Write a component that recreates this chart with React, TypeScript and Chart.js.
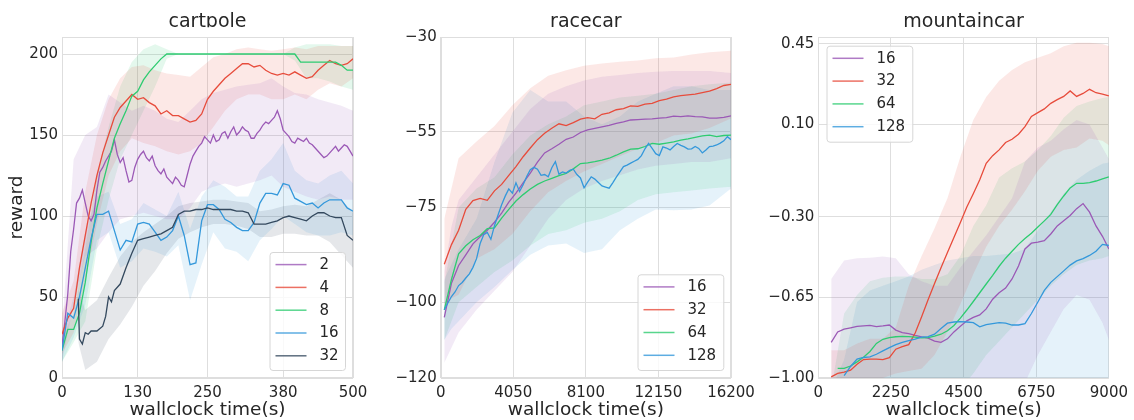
import React, { useEffect, useRef } from 'react';
import { Chart, registerables } from 'chart.js';

Chart.register(...registerables);

const FONT = '"DejaVu Sans", "Liberation Sans", sans-serif';
const INK = '#262626';
const RULE = '#dedede';

const PURPLE = '#9b59b6';
const RED = '#e74c3c';
const GREEN = '#2ecc71';
const BLUE = '#3498db';
const SLATE = '#34495e';

// evenly spaced sample positions along the time axis
const seq = (start: number, step: number, count: number) =>
  Array.from({ length: count }, (_, i) => start + step * i);

// ---------------- cartpole ----------------
const cpX = seq(0, 10, 51);
const cpX5 = seq(0, 5, 101);
const cp2 = [
  20, 35, 52, 78, 92, 108, 111, 116, 108, 100,
  97, 101, 116, 127, 130, 134, 137, 140, 147, 138,
  133, 136, 128, 121, 122, 130, 135, 138, 140, 136,
  134, 137, 131, 128, 126, 129, 124, 122, 120, 124,
  122, 119, 118, 125, 132, 137, 140, 143, 145, 149,
  147, 145, 150, 146, 147, 151, 152, 148, 152, 155,
  150, 152, 155, 153, 152, 148, 148, 151, 153, 156,
  158, 157, 159, 161, 165, 160, 153, 151, 149, 146,
  145, 148, 147, 146, 148, 145, 144, 142, 140, 138,
  136, 137, 139, 141, 143, 140, 142, 144, 143, 140,
  137,
];
const cp4 = [
  27, 37, 43, 68, 88, 108, 125, 139, 150, 161,
  167, 171, 175, 172, 173, 170, 168, 163, 165, 162,
  162, 160, 158, 159, 163, 172, 177, 181, 185, 188,
  191, 194, 194, 192, 193, 190, 188, 187, 188, 187,
  189, 187, 185, 186, 190, 193, 196, 194, 193, 194,
  197,
];
const cp8 = [
  17, 30, 30, 40, 59, 84, 105, 120, 134, 148,
  157, 165, 174, 177, 184, 189, 193, 197, 200, 200,
  200, 200, 200, 200, 200, 200, 200, 200, 200, 200,
  200, 200, 200, 200, 200, 200, 200, 200, 200, 200,
  200, 195, 195, 195, 195, 195, 195, 195, 193, 190,
  190,
];
const cp16 = [
  17, 40, 37, 50, 68, 86, 101, 101, 103, 91,
  79, 85, 84, 95, 96, 95, 90, 85, 87, 91,
  100, 88, 70, 71, 97, 107, 107, 104, 98, 96,
  93, 91, 91, 96, 108, 114, 114, 113, 120, 119,
  111, 109, 107, 108, 105, 108, 110, 110, 110, 105,
  103,
];
const cp32X = [
  28, 30, 35, 40, 45, 50, 60, 70, 75, 80, 85, 90,
  100, 110, 120, 130, 140, 150, 160, 170, 180, 190,
  200, 210, 220, 230, 240, 250, 260, 270, 280, 290,
  300, 310, 320, 330, 340, 350, 360, 370, 380, 390,
  400, 410, 420, 430, 440, 450, 460, 470, 480, 490, 500,
];
const cp32 = [
  49, 24, 21, 28, 27, 29, 29, 32, 38, 50, 47, 54,
  58, 68, 77, 85, 86, 87, 88, 89, 91, 93,
  101, 103, 103, 104, 104, 105, 104, 104, 104, 104,
  103, 103, 102, 95, 95, 95, 96, 97, 99, 100,
  99, 98, 97, 100, 102, 102, 100, 99, 99, 88, 85,
];
const cpBandX = seq(0, 20, 26);
const cp2Lo = [10, 45, 75, 80, 90, 98, 100, 102, 100, 98, 98, 105, 115, 118, 120, 118, 120, 122, 125, 118, 115, 112, 110, 112, 110, 110];
const cp2Hi = [30, 135, 150, 155, 175, 170, 165, 168, 165, 160, 158, 165, 172, 176, 178, 180, 181, 182, 185, 180, 176, 175, 172, 170, 168, 165];
const cp4Lo = [15, 28, 60, 95, 125, 140, 148, 145, 143, 140, 138, 140, 145, 155, 165, 172, 175, 175, 172, 172, 175, 172, 178, 182, 180, 185];
const cp4Hi = [40, 60, 115, 150, 172, 185, 192, 193, 190, 188, 187, 186, 192, 198, 200, 203, 204, 203, 202, 203, 204, 203, 205, 205, 205, 205];
const cp8Lo = [10, 22, 35, 80, 110, 135, 150, 165, 180, 197, 200, 200, 200, 200, 200, 200, 200, 200, 200, 200, 196, 185, 185, 183, 180, 178];
const cp8Hi = [25, 40, 80, 125, 155, 180, 195, 203, 206, 203, 200, 200, 200, 200, 200, 200, 200, 200, 200, 200, 204, 206, 206, 206, 205, 205];
const cp16Lo = [10, 25, 45, 85, 90, 68, 72, 80, 78, 75, 82, 48, 70, 90, 80, 78, 72, 85, 92, 100, 95, 90, 88, 88, 90, 88];
const cp16Hi = [25, 50, 90, 112, 115, 95, 98, 108, 104, 100, 115, 92, 112, 122, 118, 112, 112, 128, 135, 145, 128, 122, 120, 125, 128, 120];
const cp32BandX = [28, 40, 60, 80, 100, 120, 140, 160, 180, 200, 220, 240, 260, 280, 300, 320, 340, 360, 380, 400, 420, 440, 460, 480, 500];
const cp32Lo = [22, 5, 10, 24, 33, 44, 57, 66, 77, 86, 90, 93, 95, 95, 94, 92, 87, 87, 89, 89, 88, 88, 84, 76, 68];
const cp32Hi = [55, 42, 48, 62, 75, 84, 90, 95, 100, 106, 108, 109, 110, 110, 109, 108, 103, 104, 106, 107, 106, 110, 114, 110, 102];

// ---------------- racecar ----------------
const rcX = seq(200, 400, 41);
const rcFineX = seq(200, 200, 81);
const rc16 = [
  -104, -95, -90.3, -87.5, -84.6, -82.7, -81, -78.9, -76.5, -73.6,
  -71.2, -68.5, -65.9, -63, -60.6, -59.5, -58.3, -57, -56.4, -55.2,
  -54.5, -54.1, -53.7, -53.3, -52.8, -52.4, -51.9, -51.8, -51.7, -51.6,
  -51.4, -51.3, -50.9, -51, -50.8, -51, -51.1, -51.4, -51.4, -51.2,
  -50.8,
];
const rc32 = [
  -90, -84.8, -81, -75.5, -73.2, -72.6, -73.1, -70.6, -68.9, -66.5,
  -64.2, -61.6, -59.3, -57.1, -55.4, -54.1, -52.9, -53.4, -52.6, -51.7,
  -51.3, -51.6, -50.4, -50, -49.2, -48.9, -48.2, -48.3, -47.7, -47.5,
  -46.8, -46.4, -45.8, -45.5, -45.3, -45.1, -44.7, -44.3, -43.6, -42.8,
  -42.5,
];
const rc64 = [
  -102, -94, -87.2, -85.1, -83.5, -82.4, -80.6, -80.4, -77.8, -75.5,
  -73.3, -71.6, -70.1, -68.9, -68, -67.3, -66.6, -66, -64.8, -63.4,
  -63.2, -62.9, -62.5, -62, -61.2, -60.3, -59.6, -59.5, -58.9, -58.1,
  -58.3, -58, -57.7, -57.2, -56.9, -56.5, -56.1, -55.9, -56.3, -56,
  -55.9,
];
const rc128 = [
  -102, -100.2, -98.5, -97.3, -95.6, -94.8, -93.6, -92.5, -90.8, -88.5,
  -84.5, -82.2, -81.6, -83.4, -79.8, -77, -74.3, -72, -70.1, -71.2,
  -68.5, -70.8, -69, -66.8, -65, -64.4, -64.9, -66.5, -66.3, -66.9,
  -64.5, -62.9, -66.2, -65.6, -65.9, -65.2, -64.9, -66.3, -67.2, -69.8,
  -68.3, -66.9, -67.5, -68.4, -69.3, -69.6, -69.9, -68.5, -67, -65.6,
  -64.2, -63.8, -63.3, -62.8, -62.3, -61.3, -59.5, -58.1, -59.4, -60.8,
  -61.3, -59, -59.3, -59.8, -58.9, -58.1, -58.6, -59, -59.6, -59.5,
  -58.9, -59.4, -60.6, -59.8, -58.9, -58.8, -58.5, -58, -57.4, -56.3,
  -57.1,
];
const rcBandX = [200, 600, 1000, 2000, 3000, 4000, 5000, 6000, 7000, 8000, 9000, 10000, 11000, 12000, 13000, 14000, 15000, 16200];
const rc16Lo = [-116, -112, -108, -102, -97, -92, -85, -78, -73, -70, -68, -66.5, -65, -64, -63.5, -63, -63, -62];
const rc16Hi = [-92, -80, -73, -67, -61, -55, -49, -45, -43, -41.5, -40.5, -40, -39.5, -39.2, -39, -39, -39, -39.5];
const rc32Lo = [-102, -99, -98, -88.5, -86, -82, -76, -71, -68, -65.5, -63.5, -61.5, -59.5, -58, -56, -55.5, -54, -51.5];
const rc32Hi = [-78, -70, -62, -57.6, -53.5, -48, -43.5, -40.2, -38.8, -37.6, -37, -36.5, -36.2, -35.6, -35.4, -34.6, -34, -33.6];
const rc64Lo = [-110, -105, -100, -96, -92, -89, -85, -82, -81, -79, -78, -76, -73, -71.5, -71, -70.5, -70, -69.5];
const rc64Hi = [-95, -85, -75, -70, -67, -61, -56, -53, -51, -48, -47, -46, -45.5, -45, -44, -43, -42.5, -42];
const rc128Lo = [-110, -107, -105, -100, -96, -91.5, -87.5, -85, -84.5, -87, -86, -81, -78, -75.5, -75.7, -75.5, -74.5, -70];
const rc128Hi = [-94, -90, -86, -78, -63, -50, -44, -47, -47, -51, -53, -51, -47, -45, -43, -43, -44, -44];

// ---------------- mountaincar ----------------
const mcX = seq(400, 200, 44);
const mc16 = [
  -0.845, -0.8, -0.788, -0.782, -0.776, -0.774, -0.772, -0.777, -0.774, -0.77,
  -0.792, -0.803, -0.807, -0.815, -0.822, -0.827, -0.84, -0.845, -0.83, -0.8,
  -0.775, -0.752, -0.737, -0.726, -0.7, -0.658, -0.63, -0.61, -0.57, -0.514,
  -0.44, -0.415, -0.41, -0.404, -0.375, -0.34, -0.318, -0.295, -0.265, -0.243,
  -0.28, -0.34, -0.385, -0.44,
];
const mc32 = [
  -0.995, -0.98, -0.975, -0.966, -0.94, -0.92, -0.918, -0.918, -0.92, -0.912,
  -0.875, -0.864, -0.855, -0.805, -0.734, -0.66, -0.59, -0.522, -0.455, -0.39,
  -0.325, -0.258, -0.2, -0.14, -0.068, -0.035, -0.01, 0.022, 0.036, 0.058,
  0.091, 0.135, 0.152, 0.168, 0.192, 0.208, 0.222, 0.246, 0.222, 0.235,
  0.253, 0.238, 0.232, 0.224,
];
const mc64 = [
  null, -0.958, -0.958, -0.948, -0.93, -0.91, -0.885, -0.85, -0.832, -0.825,
  -0.821, -0.819, -0.82, -0.823, -0.826, -0.825, -0.818, -0.81, -0.795, -0.772,
  -0.74, -0.705, -0.668, -0.63, -0.592, -0.555, -0.515, -0.48, -0.45, -0.42,
  -0.395, -0.372, -0.345, -0.318, -0.29, -0.248, -0.21, -0.175, -0.155, -0.155,
  -0.152, -0.145, -0.136, -0.127,
];
const mc128 = [
  null, null, -0.99, -0.95, -0.918, -0.911, -0.908, -0.897, -0.882, -0.868,
  -0.855, -0.845, -0.838, -0.831, -0.823, -0.82, -0.81, -0.785, -0.762, -0.757,
  -0.755, -0.757, -0.76, -0.778, -0.768, -0.764, -0.76, -0.762, -0.77, -0.77,
  -0.764, -0.72, -0.67, -0.62, -0.585, -0.56, -0.535, -0.51, -0.492, -0.482,
  -0.468, -0.45, -0.42, -0.425,
];
const mcBandX = [400, 800, 1200, 1600, 2000, 2400, 2800, 3200, 3600, 4000, 4400, 4800, 5200, 5600, 6000, 6400, 6800, 7200, 7600, 8000, 8400, 8800, 9000];
const mc16Lo = [-1.05, -1.05, -1.05, -1.05, -1.05, -1.05, -1.05, -1.05, -1.05, -1.05, -1.05, -1.05, -1.05, -1.05, -1.05, -1.02, -0.9, -0.8, -0.7, -0.64, -0.66, -0.76, -0.835];
const mc16Hi = [-0.57, -0.49, -0.48, -0.478, -0.473, -0.48, -0.55, -0.58, -0.6, -0.6, -0.52, -0.45, -0.38, -0.3, -0.22, -0.06, 0.0, 0.03, 0.08, 0.12, 0.1, 0.0, -0.05];
const mc32Lo = [-1.05, -1.05, -1.05, -1.0, -1.0, -0.98, -0.97, -0.96, -0.9, -0.8, -0.68, -0.55, -0.43, -0.34, -0.27, -0.19, -0.1, -0.04, -0.01, 0.0, 0.04, 0.03, 0.01];
const mc32Hi = [-0.88, -0.88, -0.85, -0.83, -0.83, -0.78, -0.6, -0.47, -0.35, -0.22, -0.04, 0.12, 0.22, 0.29, 0.337, 0.37, 0.39, 0.41, 0.44, 0.455, 0.455, 0.45, 0.44];
const mc64Lo = [-1.05, -1.05, -1.05, -1.05, -1.05, -1.05, -1.05, -1.05, -1.05, -1.05, -1.05, -0.98, -0.9, -0.84, -0.78, -0.72, -0.66, -0.6, -0.55, -0.51, -0.49, -0.48, -0.47];
const mc64Hi = [-1.05, -0.72, -0.64, -0.58, -0.565, -0.56, -0.56, -0.57, -0.57, -0.55, -0.47, -0.34, -0.25, -0.13, -0.09, -0.06, -0.01, 0.05, 0.13, 0.18, 0.2, 0.215, 0.22];
const mc128Lo = [-1.05, -1.05, -1.05, -1.05, -1.05, -1.05, -1.05, -1.05, -1.05, -1.05, -1.05, -1.05, -1.05, -1.05, -1.05, -1.05, -1.05, -1.05, -1.05, -1.05, -1.05, -1.05, -1.05];
const mc128Hi = [-1.05, -0.92, -0.67, -0.62, -0.6, -0.58, -0.56, -0.53, -0.51, -0.49, -0.48, -0.47, -0.47, -0.465, -0.46, -0.44, -0.36, -0.28, -0.2, -0.14, -0.1, -0.07, -0.065];

// axis ticks
const cpXTicks = [0, 130, 250, 380, 500];
const cpYTicks = [0, 50, 100, 150, 200];
const rcXTicks = [0, 4050, 8100, 12150, 16200];
const rcYTicks = [-120, -100, -75, -55, -30];
const mcXTicks = [0, 2250, 4500, 6750, 9000];
const mcYTicks = [-1.0, -0.65, -0.3, 0.1, 0.45];

type Series = {
  label: string;
  color: string;
  xs: number[];
  ys: (number | null)[];
  bandXs: number[];
  lo: number[];
  hi: number[];
};

type PanelSpec = {
  title: string;
  left: number;
  width: number;
  axisWidth: number;
  padRight: number;
  xMin: number;
  xMax: number;
  yMin: number;
  yMax: number;
  xTicks: number[];
  yTicks: number[];
  yDigits: number;
  yTitle?: string;
  series: Series[];
  legend: { x: number; y: number; w: number; h: number };
};

const panels: PanelSpec[] = [
  {
    title: 'cartpole',
    left: 0, width: 375, axisWidth: 62, padRight: 22,
    xMin: 0, xMax: 500, yMin: 0, yMax: 210.5,
    xTicks: cpXTicks, yTicks: cpYTicks, yDigits: 0, yTitle: 'reward',
    series: [
      { label: '2', color: PURPLE, xs: cpX5, ys: cp2, bandXs: cpBandX, lo: cp2Lo, hi: cp2Hi },
      { label: '4', color: RED, xs: cpX, ys: cp4, bandXs: cpBandX, lo: cp4Lo, hi: cp4Hi },
      { label: '8', color: GREEN, xs: cpX, ys: cp8, bandXs: cpBandX, lo: cp8Lo, hi: cp8Hi },
      { label: '16', color: BLUE, xs: cpX, ys: cp16, bandXs: cpBandX, lo: cp16Lo, hi: cp16Hi },
      { label: '32', color: SLATE, xs: cp32X, ys: cp32, bandXs: cp32BandX, lo: cp32Lo, hi: cp32Hi },
    ],
    legend: { x: 269.5, y: 252, w: 75.5, h: 118 },
  },
  {
    title: 'racecar',
    left: 375, width: 386, axisWidth: 65.7, padRight: 30,
    xMin: 0, xMax: 16200, yMin: -120, yMax: -30,
    xTicks: rcXTicks, yTicks: rcYTicks, yDigits: 0,
    series: [
      { label: '16', color: PURPLE, xs: rcX, ys: rc16, bandXs: rcBandX, lo: rc16Lo, hi: rc16Hi },
      { label: '32', color: RED, xs: rcX, ys: rc32, bandXs: rcBandX, lo: rc32Lo, hi: rc32Hi },
      { label: '64', color: GREEN, xs: rcX, ys: rc64, bandXs: rcBandX, lo: rc64Lo, hi: rc64Hi },
      { label: '128', color: BLUE, xs: rcFineX, ys: rc128, bandXs: rcBandX, lo: rc128Lo, hi: rc128Hi },
    ],
    legend: { x: 637.5, y: 274.3, w: 85.8, h: 95.7 },
  },
  {
    title: 'mountaincar',
    left: 755, width: 379, axisWidth: 63.3, padRight: 25,
    xMin: 0, xMax: 9000, yMin: -1.0, yMax: 0.48,
    xTicks: mcXTicks, yTicks: mcYTicks, yDigits: 2,
    series: [
      { label: '16', color: PURPLE, xs: mcX, ys: mc16, bandXs: mcBandX, lo: mc16Lo, hi: mc16Hi },
      { label: '32', color: RED, xs: mcX, ys: mc32, bandXs: mcBandX, lo: mc32Lo, hi: mc32Hi },
      { label: '64', color: GREEN, xs: mcX, ys: mc64, bandXs: mcBandX, lo: mc64Lo, hi: mc64Hi },
      { label: '128', color: BLUE, xs: mcX, ys: mc128, bandXs: mcBandX, lo: mc128Lo, hi: mc128Hi },
    ],
    legend: { x: 826.5, y: 45.7, w: 85.8, h: 96 },
  },
];

function tint(hex: string, alpha: number) {
  const n = parseInt(hex.slice(1), 16);
  return `rgba(${(n >> 16) & 255}, ${(n >> 8) & 255}, ${n & 255}, ${alpha})`;
}

function signed(v: number, digits: number) {
  const s = Math.abs(v).toFixed(digits);
  return v < 0 ? '\u2212' + s : s;
}

function buildConfig(spec: PanelSpec): any {
  const n = spec.series.length;
  // mean curves first so they are painted above every shaded band
  const lines = spec.series
    .map((s) => ({
      label: s.label,
      data: s.xs.map((x, i) => ({ x, y: s.ys[i] })),
      borderColor: s.color,
      backgroundColor: s.color,
      borderWidth: 1.3,
      pointRadius: 0,
      fill: false,
      tension: 0,
    }))
    .reverse();
  const bands: any[] = [];
  spec.series.forEach((s) => {
    const loIndex = n + bands.length;
    bands.push({
      data: s.bandXs.map((x, i) => ({ x, y: s.lo[i] })),
      borderColor: 'rgba(0,0,0,0)',
      borderWidth: 0,
      pointRadius: 0,
      fill: false,
    });
    bands.push({
      data: s.bandXs.map((x, i) => ({ x, y: s.hi[i] })),
      borderColor: 'rgba(0,0,0,0)',
      borderWidth: 0,
      pointRadius: 0,
      fill: loIndex,
      backgroundColor: tint(s.color, 0.13),
    });
  });

  const frame = {
    id: 'frame',
    beforeDatasetsDraw(chart: any) {
      const { ctx, chartArea: a } = chart;
      ctx.save();
      ctx.strokeStyle = RULE;
      ctx.lineWidth = 1;
      const l = Math.round(a.left) + 0.5;
      const t = Math.round(a.top) + 0.5;
      const r = Math.round(a.right) - 0.5;
      const b = Math.round(a.bottom) - 0.5;
      ctx.strokeRect(l, t, r - l, b - t);
      ctx.restore();
    },
  };

  const heading = {
    id: 'heading',
    afterDraw(chart: any) {
      const { ctx, chartArea: a } = chart;
      ctx.save();
      ctx.beginPath();
      ctx.rect(0, 0, chart.width, 27.3);
      ctx.clip();
      ctx.fillStyle = INK;
      ctx.font = `19px ${FONT}`;
      ctx.textAlign = 'center';
      ctx.textBaseline = 'alphabetic';
      ctx.fillText(spec.title, (a.left + a.right) / 2, 26.7);
      ctx.restore();
    },
  };

  const keyBox = {
    id: 'keyBox',
    afterDraw(chart: any) {
      const ctx = chart.ctx;
      const { x, y, w, h } = spec.legend;
      const lx = x - spec.left;
      ctx.save();
      ctx.beginPath();
      if (ctx.roundRect) ctx.roundRect(lx + 0.5, y + 0.5, w, h, 3);
      else ctx.rect(lx + 0.5, y + 0.5, w, h);
      ctx.fillStyle = 'rgba(255,255,255,0.8)';
      ctx.fill();
      ctx.strokeStyle = '#d6d6d6';
      ctx.lineWidth = 1;
      ctx.stroke();
      spec.series.forEach((s, i) => {
        const cy = y + 12.6 + i * 22.8;
        ctx.globalAlpha = 0.8;
        ctx.strokeStyle = s.color;
        ctx.lineWidth = 1.5;
        ctx.beginPath();
        ctx.moveTo(lx + 6, cy);
        ctx.lineTo(lx + 37, cy);
        ctx.stroke();
        ctx.globalAlpha = 1;
        ctx.fillStyle = INK;
        ctx.font = `15px ${FONT}`;
        ctx.textAlign = 'left';
        ctx.textBaseline = 'middle';
        ctx.fillText(s.label, lx + 50, cy + 0.5);
      });
      ctx.restore();
    },
  };

  return {
    type: 'line',
    data: { datasets: [...lines, ...bands] },
    options: {
      animation: false,
      responsive: false,
      maintainAspectRatio: false,
      events: [],
      layout: { padding: { top: 37, right: spec.padRight, bottom: 0, left: 0 } },
      plugins: {
        legend: { display: false },
        tooltip: { enabled: false },
        title: { display: false },
      },
      scales: {
        x: {
          type: 'linear',
          min: spec.xMin,
          max: spec.xMax,
          afterFit: (s: any) => {
            s.height = 42;
          },
          afterBuildTicks: (s: any) => {
            s.ticks = spec.xTicks.map((value) => ({ value }));
          },
          ticks: {
            color: INK,
            font: { family: FONT, size: 15 },
            padding: 6,
            maxRotation: 0,
            autoSkip: false,
            callback: (v: number) => String(Math.round(v)),
          },
          grid: { color: RULE, lineWidth: 1, drawTicks: false },
          border: { display: false },
          title: {
            display: true,
            text: 'wallclock time(s)',
            color: INK,
            font: { family: FONT, size: 18.5, lineHeight: 1 },
            padding: { top: 0, bottom: 1 },
          },
        },
        y: {
          type: 'linear',
          min: spec.yMin,
          max: spec.yMax,
          afterFit: (s: any) => {
            s.width = spec.axisWidth;
          },
          afterBuildTicks: (s: any) => {
            s.ticks = spec.yTicks.map((value) => ({ value }));
          },
          ticks: {
            color: INK,
            font: { family: FONT, size: 15 },
            padding: 4,
            autoSkip: false,
            callback: (v: number) => signed(v, spec.yDigits),
          },
          grid: { color: RULE, lineWidth: 1, drawTicks: false },
          border: { display: false },
          title: {
            display: !!spec.yTitle,
            text: spec.yTitle || '',
            color: INK,
            font: { family: FONT, size: 18.5 },
            padding: { top: 6.4, bottom: 0 },
          },
        },
      },
    },
    plugins: [frame, heading, keyBox],
  };
}

function Panel({ spec }: { spec: PanelSpec }) {
  const ref = useRef<HTMLCanvasElement>(null);
  useEffect(() => {
    const canvas = ref.current;
    if (!canvas) return;
    const chart = new Chart(canvas, buildConfig(spec));
    return () => chart.destroy();
  }, [spec]);
  return (
    <canvas
      ref={ref}
      width={spec.width}
      height={420}
      style={{ position: 'absolute', left: spec.left, top: 0, width: spec.width, height: 420, display: 'block' }}
    />
  );
}

export default function App() {
  return (
    <div style={{ position: 'absolute', left: 0, top: 0, width: 1134, height: 420, background: '#ffffff', overflow: 'hidden' }}>
      {panels.map((p) => (
        <Panel key={p.title} spec={p} />
      ))}
    </div>
  );
}
